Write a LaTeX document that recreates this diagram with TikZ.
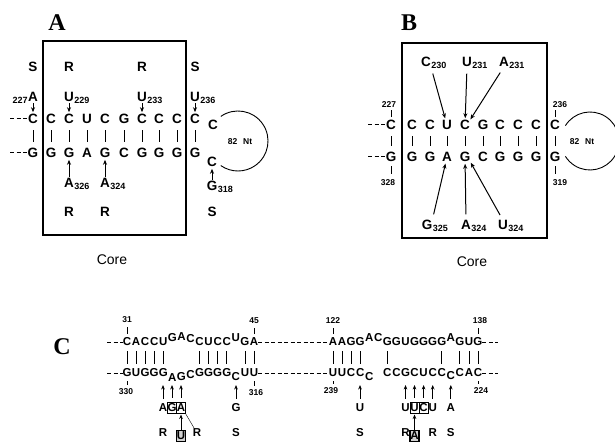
\documentclass[tikz,border=0pt]{standalone}
\usepackage{fontspec}
\setmainfont{Liberation Sans}
\newfontfamily\panelfont{Liberation Serif}
\usepackage{tikz}
\usetikzlibrary{arrows.meta}
\tikzset{
  >=Stealth,
  nt/.style={font=\bfseries\fontsize{13.5}{14}\selectfont,inner sep=0pt,outer sep=0pt},
  ntc/.style={font=\bfseries\fontsize{11.5}{12}\selectfont,inner sep=0pt,outer sep=0pt},
  sub/.style={font=\bfseries\fontsize{9}{9}\selectfont,inner sep=0pt,outer sep=0pt},
  num/.style={font=\bfseries\fontsize{8.5}{9}\selectfont,inner sep=0pt,outer sep=0pt},
  panel/.style={font=\panelfont\bfseries\fontsize{24}{24}\selectfont,inner sep=0pt},
  corelbl/.style={font=\fontsize{14}{14}\selectfont,inner sep=0pt},
  frame/.style={line width=1.4pt},
  pair/.style={line width=0.9pt,shorten <=6.5pt,shorten >=6.5pt},
  cpair/.style={line width=0.8pt,shorten <=5pt,shorten >=5pt},
  tick/.style={line width=0.5pt},
  mut/.style={-{Stealth[length=5pt,width=4pt]},line width=1pt,shorten <=1.5pt,shorten >=2pt},
  cmut/.style={-{Stealth[length=4.5pt,width=3.6pt]},line width=0.9pt,shorten <=5pt},
  bkb/.style={line width=1pt,dash pattern=on 4pt off 2.5pt},
  loopline/.style={line width=0.9pt},
  thinline/.style={line width=0.4pt},
  boxed/.style={draw,line width=0.8pt,inner sep=0pt,minimum width=9pt,minimum height=11pt},
  hbox/.style={boxed,line width=1.4pt,fill=black!18},
}
\begin{document}
\begin{tikzpicture}[x=1pt,y=-1pt]
  \path[fill=white,use as bounding box] (0,0) rectangle (615,443);

  % panel A
  \node[panel] (labA) at (57,23) {A};
  \draw[frame] (43,41) rectangle (186,235);
  \node[nt] (aS1) at (33,67) {S};
  \node[nt] (aR1) at (69,67) {R};
  \node[nt] (aR2) at (142,67) {R};
  \node[nt] (aS2) at (195,67) {S};
  \foreach \x/\b [count=\i] in {33/C,51/C,69/C,87/U,105/C,124/G,142/C,159/C,177/C,195/C}
    \node[nt] (at\i) at (\x,119) {\b};
  \foreach \x/\b [count=\i] in {33/G,51/G,69/G,87/A,105/G,124/C,142/G,159/G,177/G,195/G}
    \node[nt] (ab\i) at (\x,153) {\b};
  \foreach \i in {1,...,10} \draw[pair] (at\i) -- (ab\i);
  \coordinate (aend1) at (10,119);
  \coordinate (aend2) at (10,153);
  \draw[bkb] (aend1) -- (at1);
  \draw[bkb] (aend2) -- (ab1);
  \node[nt] (m227) at (33,97) {A};
  \node[sub,anchor=base east] (s227) at ([xshift=-0.5pt,yshift=-2pt]m227.base west) {227};
  \node[nt] (m229) at (69,97) {U};
  \node[sub,anchor=base west] (s229) at ([xshift=0.5pt,yshift=-2pt]m229.base east) {229};
  \node[nt] (m233) at (142,97) {U};
  \node[sub,anchor=base west] (s233) at ([xshift=0.5pt,yshift=-2pt]m233.base east) {233};
  \node[nt] (m236) at (195,97) {U};
  \node[sub,anchor=base west] (s236) at ([xshift=0.5pt,yshift=-2pt]m236.base east) {236};
  \foreach \m/\t in {227/1,229/3,233/7,236/10} \draw[mut] (m\m) -- (at\t);
  \node[nt] (aC1) at (213,125) {C};
  \node[nt] (aC2) at (212,162) {C};
  \coordinate (aloop) at (238,141);
  \draw[loopline] (aloop) ++(125:30pt) arc[start angle=125,end angle=-125,radius=30pt];
  \node[num] (aNt) at (240,142) {82\hspace{6pt}Nt};
  \node[nt] (m318) at (212,186) {G};
  \node[sub,anchor=base west] (s318) at ([xshift=0.5pt,yshift=-2pt]m318.base east) {318};
  \draw[mut] (m318) -- (aC2);
  \node[nt] (aS3) at (212,212) {S};
  \node[nt] (m326) at (69,183) {A};
  \node[sub,anchor=base west] (s326) at ([xshift=0.5pt,yshift=-2pt]m326.base east) {326};
  \node[nt] (m324) at (105,183) {A};
  \node[sub,anchor=base west] (s324) at ([xshift=0.5pt,yshift=-2pt]m324.base east) {324};
  \draw[mut] (m326) -- (ab3);
  \draw[mut] (m324) -- (ab5);
  \node[nt] (aR3) at (69,212) {R};
  \node[nt] (aR4) at (105,212) {R};
  \node[corelbl] (coreA) at (112,260) {Core};

  % panel B
  \node[panel] (labB) at (409,23) {B};
  \draw[frame] (402,43) rectangle (547,238);
  \foreach \x/\b [count=\i] in {391/C,412/C,430/C,447/U,465/C,483/G,500/C,518/C,536/C,555/C}
    \node[nt] (bt\i) at (\x,125) {\b};
  \foreach \x/\b [count=\i] in {391/G,412/G,430/G,447/A,465/G,483/C,500/G,518/G,536/G,555/G}
    \node[nt] (bb\i) at (\x,157) {\b};
  \foreach \i in {1,...,10} \draw[pair] (bt\i) -- (bb\i);
  \coordinate (bend1) at (368,125);
  \coordinate (bend2) at (368,157);
  \draw[bkb] (bend1) -- (bt1);
  \draw[bkb] (bend2) -- (bb1);
  \node[num] (n227) at (389,105) {227};
  \node[num] (n236) at (560,105) {236};
  \node[num] (n328) at (388,183) {328};
  \node[num] (n319) at (560,183) {319};
  \draw[tick,shorten <=3pt,shorten >=2pt] (bt1.north) -- (bt1.north |- n227.south);
  \draw[tick,shorten <=3pt,shorten >=2pt] (bt10.north) -- (bt10.north |- n236.south);
  \draw[tick,shorten <=4.5pt,shorten >=6pt] (bb1.south) -- (bb1.south |- n328.north);
  \draw[tick,shorten <=4.5pt,shorten >=6pt] (bb10.south) -- (bb10.south |- n319.north);
  \node[nt] (m230) at (426,62) {C};
  \node[sub,anchor=base west] (s230) at ([xshift=0.5pt,yshift=-2pt]m230.base east) {230};
  \node[nt] (m231u) at (467,62) {U};
  \node[sub,anchor=base west] (s231u) at ([xshift=0.5pt,yshift=-2pt]m231u.base east) {231};
  \node[nt] (m231a) at (504,62) {A};
  \node[sub,anchor=base west] (s231a) at ([xshift=0.5pt,yshift=-2pt]m231a.base east) {231};
  \draw[mut,shorten <=7pt] (m230.south east) -- (bt4);
  \draw[mut,shorten <=7pt] (m231u.south) -- (bt5);
  \draw[mut,shorten <=7pt,shorten >=1pt] (m231a.south) -- (bt5.north east);
  \node[nt] (m325) at (427,225) {G};
  \node[sub,anchor=base west] (s325) at ([xshift=0.5pt,yshift=-2pt]m325.base east) {325};
  \node[nt] (m324b) at (466,225) {A};
  \node[sub,anchor=base west] (s324b) at ([xshift=0.5pt,yshift=-2pt]m324b.base east) {324};
  \node[nt] (m324u) at (503,225) {U};
  \node[sub,anchor=base west] (s324u) at ([xshift=0.5pt,yshift=-2pt]m324u.base east) {324};
  \draw[mut,shorten <=6pt] (m325.north east) -- (bb4);
  \draw[mut,shorten <=6pt] (m324b.north) -- (bb5);
  \draw[mut,shorten <=6pt,shorten >=1pt] (m324u.north) -- (bb5.south east);
  \coordinate (bloop) at (590,141);
  \draw[loopline] (bloop) ++(148:29pt) arc[start angle=148,end angle=-148,radius=29pt];
  \node[num] (bNt) at (582,142) {82\hspace{6pt}Nt};
  \node[corelbl] (coreB) at (472,262) {Core};

  % panel C
  \node[panel] (labC) at (62,347) {C};
  \foreach \b/\dy [count=\i] in {C/0,A/0,C/0,C/0,U/0,G/-4,A/-5,C/-3,C/0,U/0,C/0,C/0,U/-4,G/0,A/0}
    \node[ntc] (ct\i) at ({127+9.07*(\i-1)},{342+\dy}) {\b};
  \foreach \b/\dy [count=\i] in {G/0,U/0,G/0,G/0,G/0,A/5,G/4,C/2,G/0,G/0,G/0,G/0,C/4,U/0,U/0}
    \node[ntc] (cb\i) at ({127+9.07*(\i-1)},{373+\dy}) {\b};
  \foreach \i in {1,...,5,9,10,11,12,14,15} \draw[cpair] (ct\i) -- (cb\i);
  \foreach \b/\dy [count=\j from 0] in {A/0,A/0,G/0,G/0,A/-4,C/-4,G/0,G/0,U/0,G/0,G/0,G/0,G/0,A/-4,G/0,U/0,G/0}
    \node[ntc] (crt\j) at ({333+9.06*\j},{342+\dy}) {\b};
  \foreach \j/\b/\dy in {0/U/0,1/U/0,2/C/0,3/C/0,4/C/4,6/C/0,7/C/0,8/G/0,9/C/0,10/U/0,11/C/0,12/C/0,13/C/3,14/C/0,15/A/0,16/C/0}
    \node[ntc] (crb\j) at ({333+9.06*\j},{373+\dy}) {\b};
  \foreach \j in {0,...,3,6,...,12,14,15,16} \draw[cpair] (crt\j) -- (crb\j);
  \coordinate (cend1) at (107,342);
  \coordinate (cend2) at (107,373);
  \coordinate (cend3) at (498,342);
  \coordinate (cend4) at (498,373);
  \draw[bkb] (cend1) -- (ct1);
  \draw[bkb] (cend2) -- (cb1);
  \draw[bkb] (ct15) -- (crt0);
  \draw[bkb] (cb15) -- (crb0);
  \draw[bkb] (crt16) -- (cend3);
  \draw[bkb] (crb16) -- (cend4);
  \node[num] (n31) at (127,320) {31};
  \node[num] (n45) at (254,321) {45};
  \node[num] (n122) at (333,321) {122};
  \node[num] (n138) at (480,321) {138};
  \node[num] (n330) at (126,392) {330};
  \node[num] (n316) at (256,393) {316};
  \node[num] (n239) at (331,391) {239};
  \node[num] (n224) at (481,391) {224};
  \draw[tick,shorten <=4pt,shorten >=4pt] (ct1.north) -- (ct1.north |- n31.south);
  \draw[tick,shorten <=4pt,shorten >=4pt] (ct15.north) -- (ct15.north |- n45.south);
  \draw[tick,shorten <=4pt,shorten >=4pt] (crt0.north) -- (crt0.north |- n122.south);
  \draw[tick,shorten <=4pt,shorten >=4pt] (crt16.north) -- (crt16.north |- n138.south);
  \draw[tick,shorten <=4pt,shorten >=4pt] (cb1.south) -- (cb1.south |- n330.north);
  \draw[tick,shorten <=4pt,shorten >=4pt] (cb15.south) -- (cb15.south |- n316.north);
  \draw[tick,shorten <=4pt,shorten >=4pt] (crb0.south) -- (crb0.south |- n239.north);
  \draw[tick,shorten <=4pt,shorten >=4pt] (crb16.south) -- (crb16.south |- n224.north);
  \coordinate (ctip) at (0,385);
  \node[ntc] (lm1) at (163,408) {A};
  \node[ntc,boxed] (lm2) at (172,408) {G};
  \node[ntc,boxed] (lm3) at (181,408) {A};
  \node[ntc,hbox] (lmu) at (181,436) {U};
  \node[ntc] (lr1) at (163,433) {R};
  \node[ntc] (lr2) at (197,433) {R};
  \node[ntc] (lg) at (236,408) {G};
  \node[ntc] (ls1) at (236,433) {S};
  \foreach \k in {lm1,lm2,lm3,lg} \draw[cmut] (\k) -- (\k |- ctip);
  \draw[cmut,shorten <=1pt,shorten >=1pt] (lmu) -- (lm3);
  \draw[thinline] (lm3.south east) -- (lr2);
  \node[ntc] (rm1) at (360,408) {U};
  \node[ntc] (rm2) at (405.5,408) {U};
  \node[ntc,boxed] (rm3) at (414.5,408) {U};
  \node[ntc,boxed] (rm4) at (423.6,408) {C};
  \node[ntc] (rm5) at (432.7,408) {U};
  \node[ntc] (rm6) at (450.8,408) {A};
  \node[ntc] (rs1) at (360,433) {S};
  \node[ntc] (rr1) at (405.5,433) {R};
  \node[ntc,hbox] (rma) at (414.5,436) {A};
  \node[ntc] (rr2) at (432.7,433) {R};
  \node[ntc] (rs2) at (450.8,433) {S};
  \foreach \k in {rm1,rm2,rm3,rm4,rm5,rm6} \draw[cmut] (\k) -- (\k |- ctip);
  \draw[cmut,shorten <=1pt,shorten >=1pt] (rma) -- (rm3);
\end{tikzpicture}
\end{document}
